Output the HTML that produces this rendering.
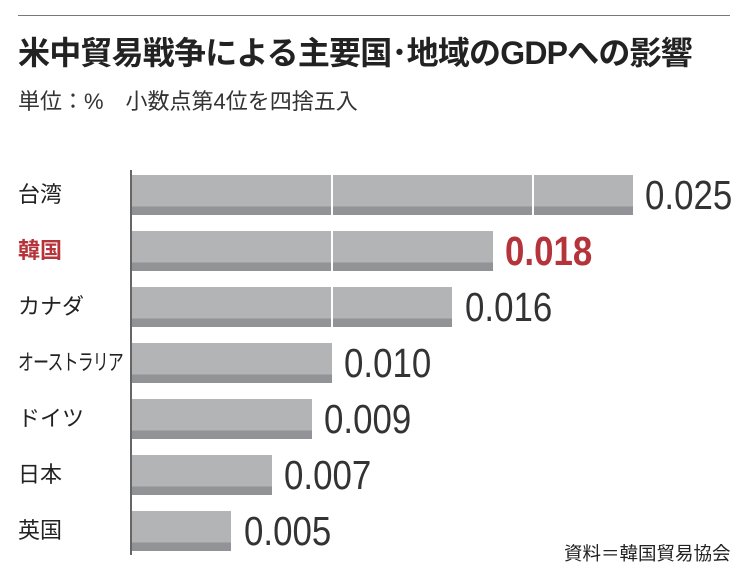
<!DOCTYPE html>
<html><head><meta charset="utf-8"><style>
body{margin:0;width:750px;height:576px;background:#fff;position:relative;overflow:hidden;font-family:"Liberation Sans","Noto Sans CJK JP",sans-serif;color:#222}
.a{position:absolute;white-space:nowrap}
.bar{position:absolute;left:131px;height:40px;background:linear-gradient(#b3b4b6 0,#b3b4b6 31px,#929397 32px,#929397 40px)}
.g{position:absolute;top:175px;width:2px;background:#fff}
.lbl{position:absolute;left:18px;font-size:22px;line-height:40px}
.v{position:absolute;font-size:41px;line-height:40px;transform:scaleX(.85);transform-origin:left center;color:#333}
</style></head><body>
<div class="a" style="left:18px;top:15px;width:712px;height:1px;background:#777"></div>
<div class="a" style="left:18px;top:28px;font-size:32px;font-weight:bold;letter-spacing:-0.8px">米中貿易戦争による主要国･地域のGDPへの影響</div>
<div class="a" style="left:18px;top:84px;font-size:22px;color:#333">単位：%　小数点第4位を四捨五入</div>
<div class="bar" style="top:175px;width:502px"></div>
<div class="bar" style="top:231px;width:362px"></div>
<div class="bar" style="top:287px;width:321px"></div>
<div class="bar" style="top:343px;width:201px"></div>
<div class="bar" style="top:399px;width:181px"></div>
<div class="bar" style="top:455px;width:141px"></div>
<div class="bar" style="top:511px;width:100px"></div>
<div class="g" style="left:331px;height:152px"></div>
<div class="g" style="left:532px;height:40px"></div>
<div class="a" style="left:130px;top:170px;width:2px;height:385px;background:#666"></div>
<div class="lbl" style="top:175px">台湾</div>
<div class="lbl" style="top:231px;color:#b5333a;font-weight:bold">韓国</div>
<div class="lbl" style="top:287px">カナダ</div>
<div class="lbl" style="top:343px;transform:scaleX(.72);transform-origin:left center;letter-spacing:-1px">オーストラリア</div>
<div class="lbl" style="top:399px">ドイツ</div>
<div class="lbl" style="top:455px">日本</div>
<div class="lbl" style="top:511px">英国</div>
<div class="v" style="left:645px;top:175px">0.025</div>
<div class="v" style="left:505px;top:231px;color:#b5333a;font-weight:bold">0.018</div>
<div class="v" style="left:465px;top:287px">0.016</div>
<div class="v" style="left:344px;top:343px">0.010</div>
<div class="v" style="left:324px;top:399px">0.009</div>
<div class="v" style="left:284px;top:455px">0.007</div>
<div class="v" style="left:244px;top:511px">0.005</div>
<div class="a" style="left:564px;top:540px;font-size:18.5px">資料＝韓国貿易協会</div>
</body></html>
